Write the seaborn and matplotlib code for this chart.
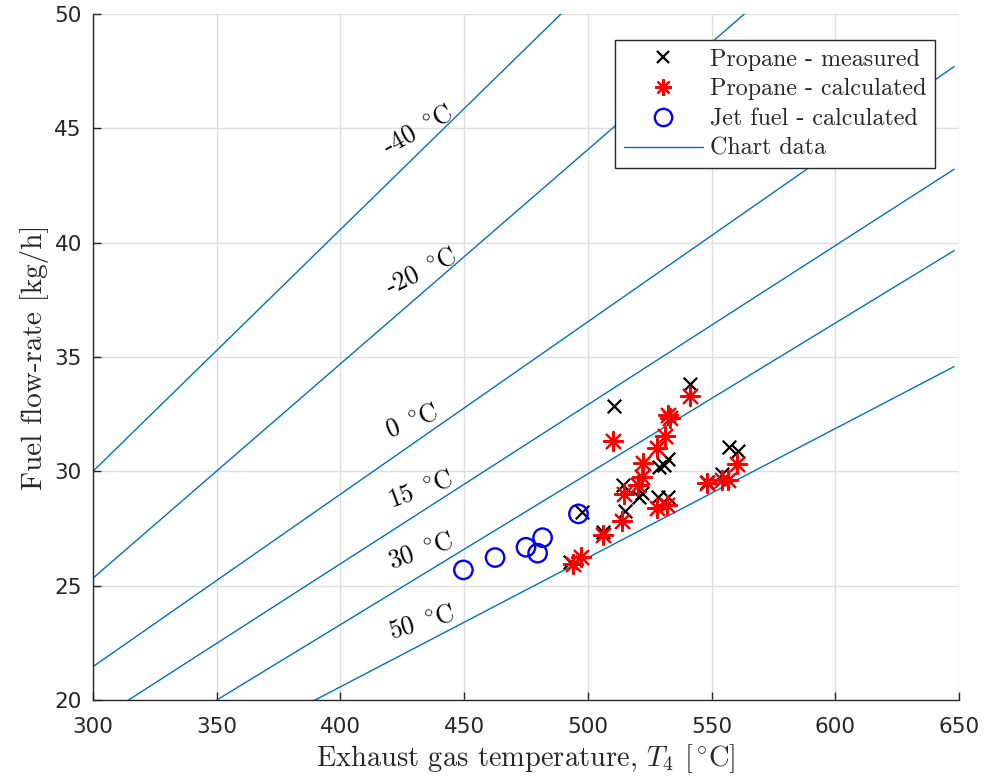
import numpy as np
import pandas as pd
import matplotlib
matplotlib.use("Agg")
import matplotlib.pyplot as plt
from matplotlib.lines import Line2D
import seaborn as sns

# ---------------- data ----------------
# Propane - measured (T4 [C], fuel flow [kg/h])
meas_T4 = [510.7, 541.3, 557.2, 560.6, 532.4, 528.7, 530.7, 514.4, 521.8, 520.8,
           528.5, 532.5, 515.0, 506.0, 492.8, 497.5, 548.1, 554.1]
meas_ff = [32.86, 33.82, 31.05, 30.90, 30.54, 30.19, 30.28, 29.41, 29.07, 28.87,
           28.87, 28.87, 28.28, 27.36, 26.05, 28.24, 29.55, 29.89]

# Propane - calculated
calc_T4 = [510.3, 541.3, 532.5, 533.2, 531.2, 528.1, 522.4, 560.2, 521.8, 520.4,
           514.8, 527.8, 532.1, 513.8, 506.0, 548.1, 554.4, 556.8, 494.1, 497.1]
calc_ff = [31.34, 33.30, 32.47, 32.32, 31.55, 31.01, 30.35, 30.32, 29.77, 29.41,
           29.00, 28.39, 28.53, 27.83, 27.22, 29.48, 29.62, 29.62, 25.95, 26.24]

# Jet fuel - calculated
jet_T4 = [449.7, 462.5, 475.0, 479.7, 481.7, 496.2]
jet_ff = [25.69, 26.23, 26.68, 26.42, 27.10, 28.14]

# Chart data: lines of constant ambient temperature (end points)
amb_labels = ["-40", "-20", "0", "15", "30", "50"]
chart_T4_start = [300, 300, 300, 300, 300, 300]
chart_T4_end = [648, 648, 648, 648, 648, 648]
chart_ff_start = [30.00, 25.33, 21.46, 19.00, 16.70, 14.93]
chart_ff_end = [66.80, 57.94, 47.70, 43.21, 39.65, 34.58]

# label anchor positions (data coords)
lab_T4 = [431.4, 432.6, 428.9, 432.2, 432.6, 433.0]
lab_ff = [44.93, 38.72, 32.20, 29.19, 26.52, 23.40]

xticks = [300, 350, 400, 450, 500, 550, 600, 650]
yticks = [20, 25, 30, 35, 40, 45, 50]

# ---------------- style ----------------
sns.set_style("whitegrid")
plt.rcParams["mathtext.fontset"] = "cm"
plt.rcParams["axes.unicode_minus"] = False
SERIF = "cmr10"
LINE_C = "#0072BD"

fig = plt.figure(figsize=(9.89, 7.81), dpi=100)
ax = fig.add_axes([93 / 989, 1 - 700 / 781, 866 / 989, 686 / 781])

# chart lines
rows = []
for i, lab in enumerate(amb_labels):
    rows.append({"T4": chart_T4_start[i], "ff": chart_ff_start[i], "amb": lab})
    rows.append({"T4": chart_T4_end[i], "ff": chart_ff_end[i], "amb": lab})
chart_df = pd.DataFrame(rows)
sns.lineplot(data=chart_df, x="T4", y="ff", units="amb", estimator=None,
             color=LINE_C, linewidth=1.0, ax=ax, legend=False, sort=False, zorder=2)

# scatter series
sns.scatterplot(x=meas_T4, y=meas_ff, marker="x", s=95, color="black",
                linewidth=1.6, ax=ax, legend=False, zorder=3)
sns.scatterplot(x=calc_T4, y=calc_ff, marker=(8, 2, 0), s=190, color="red",
                edgecolor="red", linewidth=1.6, ax=ax, legend=False, zorder=4)
sns.scatterplot(x=jet_T4, y=jet_ff, marker="o", s=175, facecolor="none",
                edgecolor="blue", linewidth=1.7, ax=ax, legend=False, zorder=5)

# rotated labels on the lines
fig.canvas.draw()
for i, lab in enumerate(amb_labels):
    p0 = ax.transData.transform((chart_T4_start[i], chart_ff_start[i]))
    p1 = ax.transData.transform((chart_T4_end[i], chart_ff_end[i]))
    ang = np.degrees(np.arctan2(p1[1] - p0[1], p1[0] - p0[0]))
    ax.text(lab_T4[i], lab_ff[i], lab + r" $^\circ\!\mathrm{C}$", rotation=ang,
            rotation_mode="anchor", ha="center", va="center",
            fontsize=18.5, family=SERIF, color="black", zorder=6)

ax.set_xlim(300, 650)
ax.set_ylim(20, 50)
ax.set_xticks(xticks)
ax.set_yticks(yticks)
ax.set_xticklabels([str(v) for v in xticks])
ax.set_yticklabels([str(v) for v in yticks])
for t in ax.get_xticklabels() + ax.get_yticklabels():
    t.set_family("DejaVu Sans")
    t.set_fontsize(15.5)
    t.set_color("#262626")

ax.tick_params(axis="both", direction="in", length=6, width=1.0, color="#262626",
               left=True, bottom=True, top=False, right=False)
ax.tick_params(axis="x", pad=12)
ax.tick_params(axis="y", pad=8)

ax.grid(True, color="#dedede", linewidth=1.0)
for side in ["top", "right"]:
    ax.spines[side].set_visible(False)
for side in ["left", "bottom"]:
    ax.spines[side].set_visible(True)
    ax.spines[side].set_color("#262626")
    ax.spines[side].set_linewidth(1.0)

ax.set_xlabel(r"Exhaust gas temperature, $T_4$ [$^\circ\!\mathrm{C}$]", family=SERIF,
              fontsize=20.5, color="#262626", labelpad=4)
ax.set_ylabel("Fuel flow-rate [kg/h]", family=SERIF, fontsize=21,
              color="#262626", labelpad=4)

handles = [
    Line2D([], [], linestyle="none", marker="x", color="black", markersize=9,
           markeredgewidth=1.6),
    Line2D([], [], linestyle="none", marker=(8, 2, 0), color="red", markersize=12,
           markeredgewidth=1.6),
    Line2D([], [], linestyle="none", marker="o", markerfacecolor="none",
           markeredgecolor="blue", markersize=12.5, markeredgewidth=1.7),
    Line2D([], [], color=LINE_C, linewidth=1.0),
]
labels = ["Propane - measured", "Propane - calculated", "Jet fuel - calculated",
          "Chart data"]
leg = ax.legend(handles, labels, loc="upper right",
                bbox_to_anchor=((935 - 93) / 866, (700 - 40) / 686),
                borderaxespad=0, frameon=True, fancybox=False, framealpha=1,
                edgecolor="#262626", handlelength=3.3, handletextpad=0.3,
                labelspacing=0.32, borderpad=0.35,
                prop={"family": SERIF, "size": 17.3})
leg.get_frame().set_linewidth(1.0)
leg.set_zorder(10)

fig.savefig("out.png", dpi=100, facecolor="white")
